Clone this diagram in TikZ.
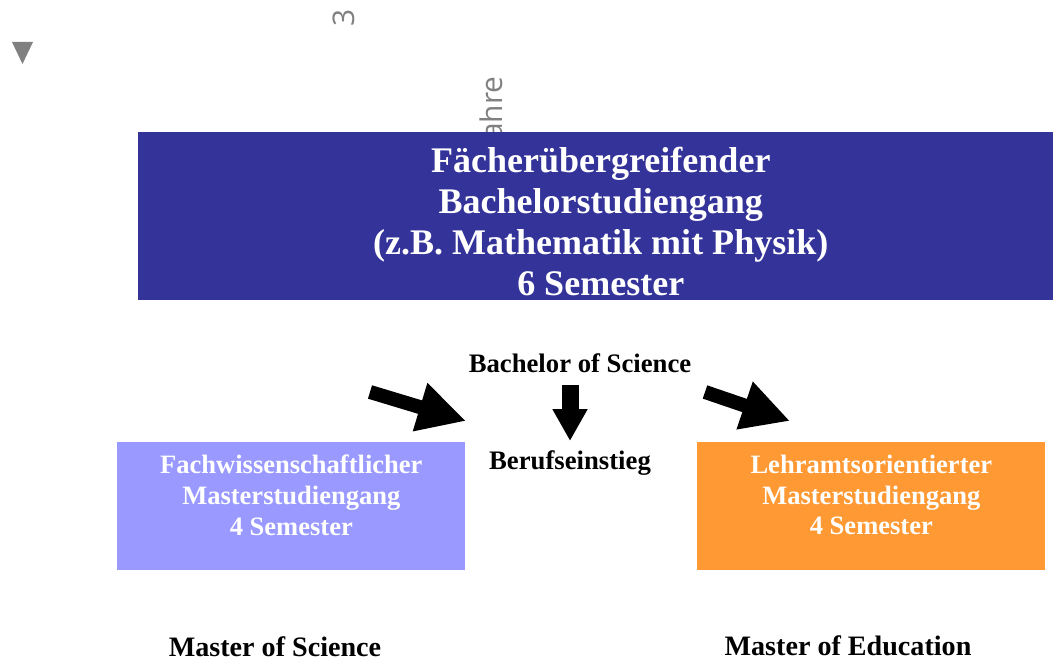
\documentclass[tikz,border=0pt]{standalone}
\usepackage{fontspec}
\setmainfont{Liberation Serif}
\newfontfamily\grayfont{Open Sans}
\usetikzlibrary{arrows.meta}
\definecolor{bachelorclr}{HTML}{333399}
\definecolor{scienceclr}{HTML}{9999FF}
\definecolor{educlr}{HTML}{FF9933}
\definecolor{timeclr}{HTML}{808080}

\begin{document}
\begin{tikzpicture}[x=0.02cm, y=-0.02cm,
    prog/.style={draw=none, text=white, align=center, font=\bfseries\fontsize{15.1}{17.4}\selectfont,
                 minimum width=6.96cm, minimum height=2.56cm, text depth=0.45cm},
    degree/.style={font=\bfseries\fontsize{15.2}{18}\selectfont},
    timelbl/.style={font=\grayfont\fontsize{17}{20}\selectfont, text=timeclr, rotate=90, inner sep=0pt},
    bigarrow/.style={-{Triangle[length=0.96cm, width=0.94cm]}, line width=0.28cm},
  ]
  \useasboundingbox (0,0) rectangle (1053,661);

  % time axis
  \fill[timeclr] (12,42) -- (33,42) -- (22.5,64) -- cycle;
  \node[timelbl] (years) at (344,18) {3};
  \node[timelbl, anchor=east] (jahre) at (494,76) {Jahre};

  \node[draw=none, fill=bachelorclr, text=white, align=center, anchor=north west,
        minimum width=18.5cm, minimum height=3.36cm, inner ysep=0pt,
        font=\bfseries\fontsize{20.5}{23.4}\selectfont] (bsc)
    at (138,132) {\rule{0pt}{20pt}Fächerübergreifender\\Bachelorstudiengang\\(z.B. Mathematik mit Physik)\\6 Semester};

  \node[degree] (bdeg) at (580,363) {Bachelor of Science};
  \node[degree] (beruf) at (570,463) {Berufseinstieg};

  \node[prog, fill=scienceclr, anchor=north west] (msc) at (117,442)
    {Fachwissenschaftlicher\\Masterstudiengang\\4 Semester};
  \node[prog, fill=educlr, anchor=north west] (med) at (697,442)
    {Lehramtsorientierter\\Masterstudiengang\\4 Semester};

  \node[degree, font=\bfseries\fontsize{16}{19}\selectfont] (mscdeg) at (275,647) {Master of Science};
  \node[degree, font=\bfseries\fontsize{16}{19}\selectfont] (meddeg) at (848,646) {Master of Education};

  % arrows
  \coordinate (l0) at (370,392);
  \coordinate (l1) at (466,421);
  \coordinate (m0) at (570,385);
  \coordinate (m1) at (570,441);
  \coordinate (r0) at (705,392);
  \coordinate (r1) at (790,421);
  \draw[bigarrow] (l0) -- (l1);
  \draw[bigarrow, line width=0.34cm, -{Triangle[length=0.64cm, width=0.66cm]}] (m0) -- (m1);
  \draw[bigarrow] (r0) -- (r1);
\end{tikzpicture}
\end{document}
